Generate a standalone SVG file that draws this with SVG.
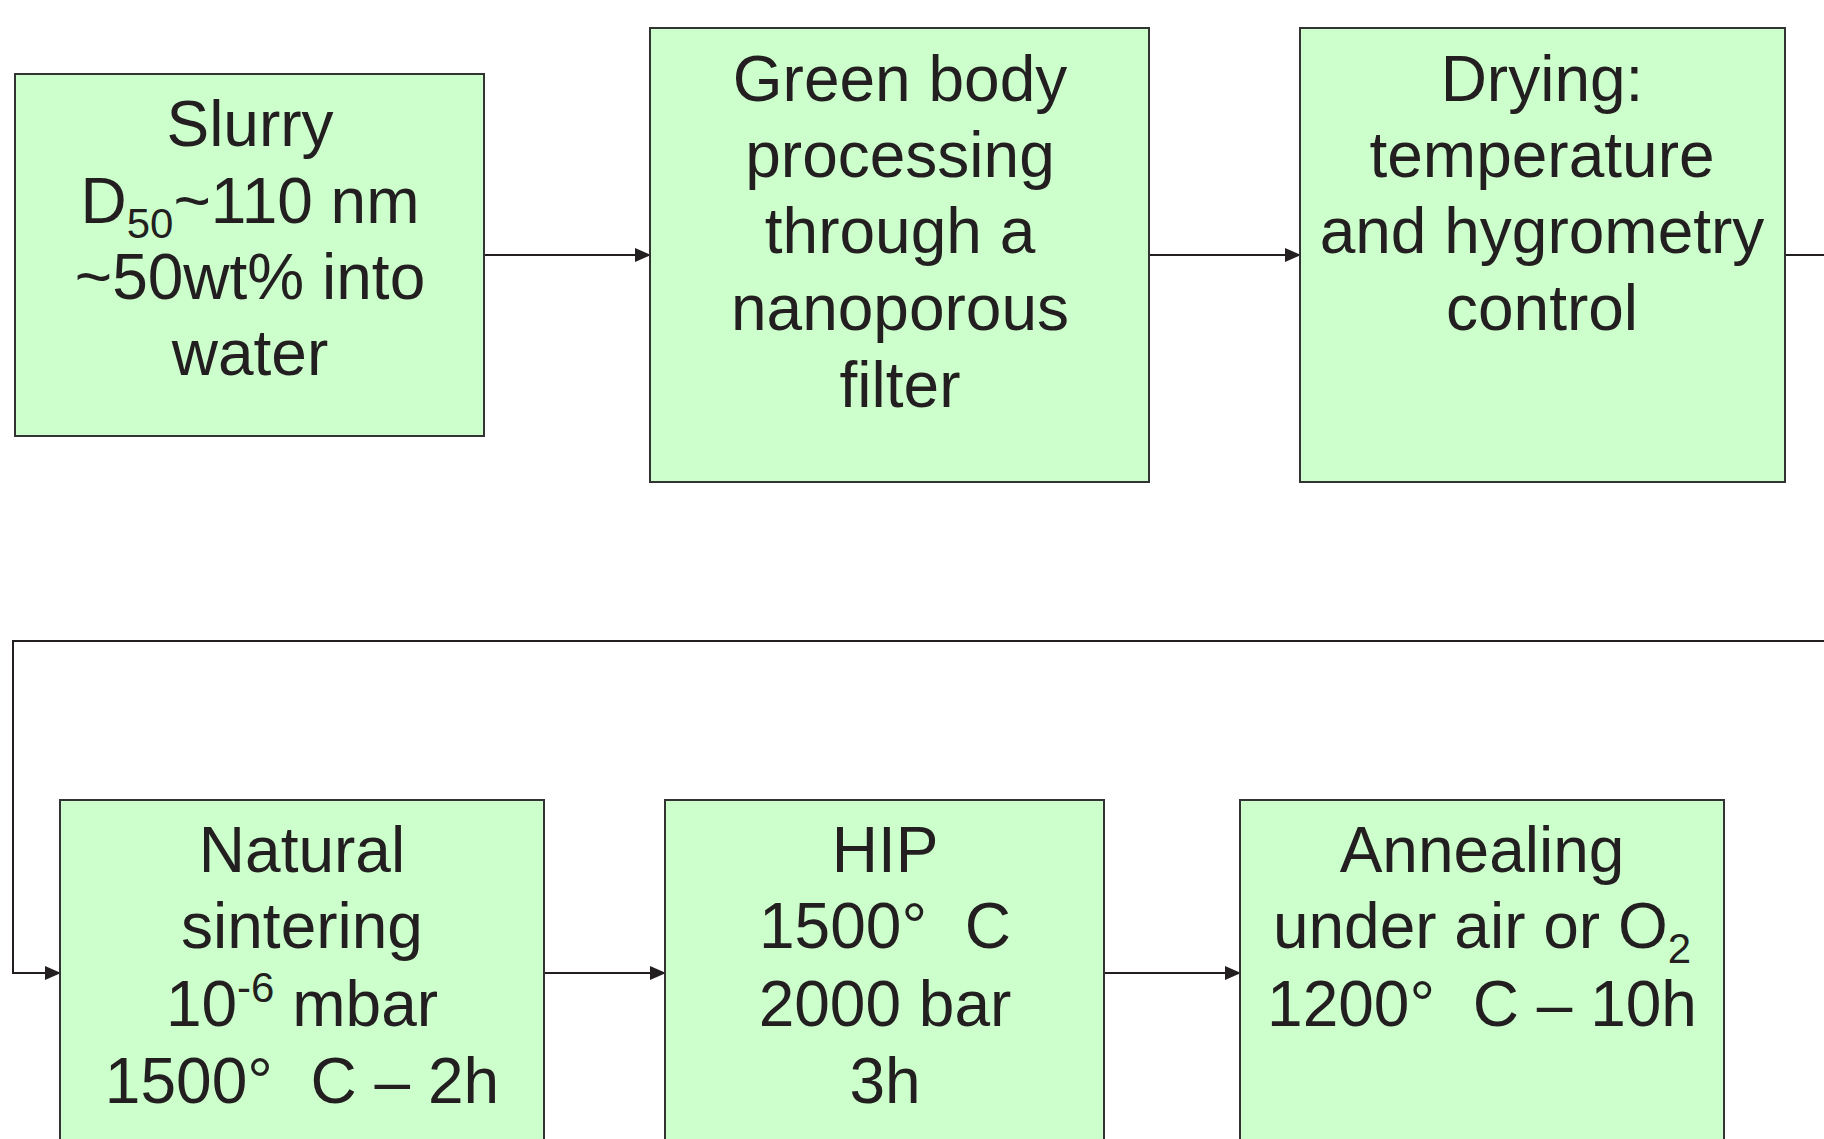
<svg xmlns="http://www.w3.org/2000/svg" width="1824" height="1139" viewBox="0 0 1824 1139">
<style>
.box{fill:#ccffcc;stroke:#333333;stroke-width:2}
.t{font-family:"Liberation Sans",Arial,sans-serif;font-size:64px;fill:#231f20;text-anchor:middle}
.s{font-size:42px}
.c{fill:none;stroke:#231f20;stroke-width:2}
</style>
<defs>
<marker id="ah" markerWidth="16" markerHeight="14" refX="15" refY="7" orient="auto" markerUnits="userSpaceOnUse">
<path d="M0,0 L16,7 L0,14 Z" fill="#231f20"/>
</marker>
</defs>
<rect width="1824" height="1139" fill="#ffffff"/>
<g id="connectors">
<line class="c" x1="484" y1="255" x2="650" y2="255" marker-end="url(#ah)"/>
<line class="c" x1="1149" y1="255" x2="1300" y2="255" marker-end="url(#ah)"/>
<line class="c" x1="1785" y1="255" x2="1824" y2="255"/>
<polyline class="c" points="1824,641 13,641 13,973 60,973" marker-end="url(#ah)"/>
<line class="c" x1="544" y1="973" x2="665" y2="973" marker-end="url(#ah)"/>
<line class="c" x1="1104" y1="973" x2="1240" y2="973" marker-end="url(#ah)"/>
</g>
<g id="slurry">
<rect class="box" x="15" y="74" width="469" height="362"/>
<text class="t" x="250" y="146">Slurry</text>
<text class="t" x="250" y="223">D<tspan class="s" dy="15">50</tspan><tspan dy="-15">~110 nm</tspan></text>
<text class="t" x="250" y="299">~50wt% into</text>
<text class="t" x="250" y="375">water</text>
</g>
<g id="green-body">
<rect class="box" x="650" y="28" width="499" height="454"/>
<text class="t" x="900" y="101">Green body</text>
<text class="t" x="900" y="177">processing</text>
<text class="t" x="900" y="253">through a</text>
<text class="t" x="900" y="330">nanoporous</text>
<text class="t" x="900" y="407">filter</text>
</g>
<g id="drying">
<rect class="box" x="1300" y="28" width="485" height="454"/>
<text class="t" x="1542" y="101">Drying:</text>
<text class="t" x="1542" y="177">temperature</text>
<text class="t" x="1542" y="253">and hygrometry</text>
<text class="t" x="1542" y="330">control</text>
</g>
<g id="natural-sintering">
<rect class="box" x="60" y="800" width="484" height="360"/>
<text class="t" x="302" y="872">Natural</text>
<text class="t" x="302" y="948">sintering</text>
<text class="t" x="302" y="1026">10<tspan class="s" dy="-24">-6</tspan><tspan dy="24"> mbar</tspan></text>
<text class="t" x="302" y="1103">1500°<tspan dx="20"> C – 2h</tspan></text>
</g>
<g id="hip">
<rect class="box" x="665" y="800" width="439" height="360"/>
<text class="t" x="885" y="872">HIP</text>
<text class="t" x="885" y="948">1500°<tspan dx="20"> C</tspan></text>
<text class="t" x="885" y="1026">2000 bar</text>
<text class="t" x="885" y="1103">3h</text>
</g>
<g id="annealing">
<rect class="box" x="1240" y="800" width="484" height="360"/>
<text class="t" x="1482" y="872">Annealing</text>
<text class="t" x="1482" y="948">under air or O<tspan class="s" dy="15">2</tspan></text>
<text class="t" x="1482" y="1026">1200°<tspan dx="20"> C – 10h</tspan></text>
</g>
</svg>
